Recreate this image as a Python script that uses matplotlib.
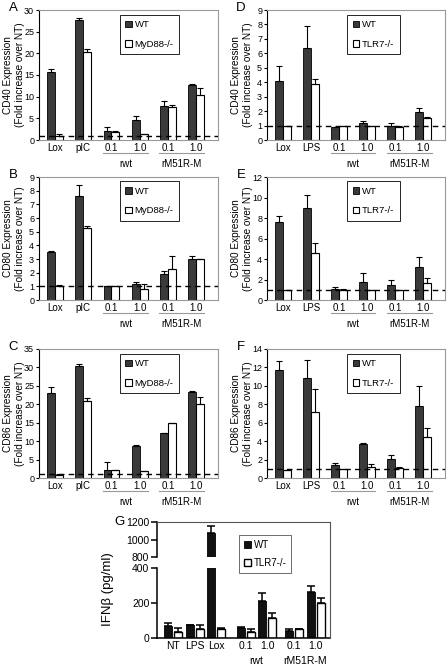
import numpy as np
import matplotlib
matplotlib.use('Agg')
import matplotlib.pyplot as plt
from matplotlib.patches import Patch
from matplotlib.lines import Line2D
from matplotlib.transforms import offset_copy

plt.rcParams['font.family'] = ['Liberation Sans', 'DejaVu Sans']

W, H = 448, 666

# categories
cats_myd = ['Lox', 'pIC', '0.1', '1.0', '0.1', '1.0']
cats_tlr = ['Lox', 'LPS', '0.1', '1.0', '0.1', '1.0']
groups = ['rwt', 'rM51R-M']

# A: CD40, MyD88-/-
a_wt = [15.8, 27.6, 2.0, 4.7, 7.9, 12.8]
a_wt_err = [0.6, 0.6, 0.9, 0.8, 1.0, 0.2]
a_ko = [0.9, 20.2, 1.9, 1.3, 7.7, 10.5]
a_ko_err = [0.4, 0.9, 0.1, 0.1, 0.3, 1.6]

# B: CD80, MyD88-/-
b_wt = [3.5, 7.6, 1.0, 1.2, 1.9, 3.0]
b_wt_err = [0.1, 0.8, 0.05, 0.15, 0.2, 0.2]
b_ko = [1.0, 5.3, 1.0, 0.8, 2.3, 3.0]
b_ko_err = [0.1, 0.1, 0.0, 0.35, 0.9, 0.0]

# C: CD86, MyD88-/-
c_wt = [23.0, 30.3, 2.3, 8.6, 12.1, 23.4]
c_wt_err = [1.8, 0.7, 2.0, 0.3, 0.1, 0.2]
c_ko = [0.9, 21.0, 2.3, 2.0, 14.9, 20.1]
c_ko_err = [0.2, 0.8, 0.0, 0.0, 0.0, 2.0]

# D: CD40, TLR7-/-
d_wt = [4.1, 6.4, 0.9, 1.2, 1.0, 1.95]
d_wt_err = [1.0, 1.5, 0.0, 0.1, 0.15, 0.3]
d_ko = [1.0, 3.85, 0.95, 0.95, 0.9, 1.5]
d_ko_err = [0.0, 0.35, 0.0, 0.0, 0.1, 0.1]

# E: CD80, TLR7-/-
e_wt = [7.6, 9.0, 1.1, 1.8, 1.5, 3.2]
e_wt_err = [0.6, 1.2, 0.2, 0.8, 0.5, 1.0]
e_ko = [1.0, 4.6, 1.0, 1.0, 1.0, 1.7]
e_ko_err = [0.0, 1.0, 0.1, 0.0, 0.0, 0.4]

# F: CD86, TLR7-/-
f_wt = [11.7, 10.9, 1.4, 3.7, 2.1, 7.8]
f_wt_err = [1.0, 1.9, 0.2, 0.1, 0.4, 2.2]
f_ko = [0.9, 7.2, 1.0, 1.2, 1.1, 4.4]
f_ko_err = [0.0, 2.5, 0.0, 0.3, 0.1, 1.0]

# G: IFNb, TLR7-/-
g_cats = ['NT', 'LPS', 'Lox', '0.1', '1.0', '0.1', '1.0']
g_wt = [66, 72, 1080, 57, 212, 38, 263]
g_wt_err = [18, 5, 75, 5, 45, 12, 35]
g_ko = [36, 50, 50, 36, 112, 50, 198]
g_ko_err = [20, 25, 5, 14, 30, 3, 33]

WT_COL = '#3a3a3a'
FRAME = '#999999'

fig = plt.figure(figsize=(W / 100, H / 100), dpi=100)


def px_axes(x0, x1, y0, y1):
    return fig.add_axes([x0 / W, 1 - y1 / H, (x1 - x0) / W, (y1 - y0) / H])


def panel(x0, x1, y0, y1, cats, wt, wt_err, ko, ko_err, ymax, ystep,
          ylab, kolab, letter):
    ax = px_axes(x0, x1, y0, y1)
    x = np.arange(len(cats))
    w = 0.28
    ax.bar(x - w / 2, wt, w, color=WT_COL, edgecolor='black', lw=0.6, zorder=2)
    ax.bar(x + w / 2, ko, w, color='white', edgecolor='black', lw=0.8, zorder=2)
    ax.errorbar(x - w / 2, wt, yerr=[np.zeros(len(wt)), wt_err], fmt='none',
                ecolor='black', elinewidth=0.8, capsize=2.5, capthick=0.8, zorder=3)
    ax.errorbar(x + w / 2, ko, yerr=[np.zeros(len(ko)), ko_err], fmt='none',
                ecolor='black', elinewidth=0.8, capsize=2.5, capthick=0.8, zorder=3)
    ax.axhline(1, color='black', lw=1, ls=(0, (4, 3)), zorder=4)
    ax.set_xlim(-0.57, 5.78)
    ax.set_ylim(0, ymax)
    ax.set_yticks(np.arange(0, ymax + 0.01, ystep))
    ax.set_xticks(x)
    ax.set_xticklabels(cats, fontsize=7)
    ax.tick_params(axis='x', length=0, pad=2)
    ax.tick_params(axis='y', length=2.5, width=0.8, labelsize=6.5, pad=1)
    for s in ['top', 'right', 'bottom']:
        ax.spines[s].set_color(FRAME)
        ax.spines[s].set_linewidth(0.8)
    ax.spines['left'].set_linewidth(0.8)
    # two-line y label placed by hand
    yc = 1 - (y0 + y1) / 2 / H
    fig.text((x0 - 31) / W, yc, ylab, rotation=90, fontsize=7.2,
             ha='center', va='center')
    fig.text((x0 - 19) / W, yc, '(Fold increase over NT)', rotation=90,
             fontsize=7.2, ha='center', va='center')
    # group labels under the virus doses
    ltr = offset_copy(ax.get_xaxis_transform(), fig=fig, y=-13, units='dots')
    ttr = offset_copy(ax.get_xaxis_transform(), fig=fig, y=-24, units='dots')
    for g, c in zip(groups, [2.5, 4.5]):
        ax.plot([c - 0.8, c + 0.8], [0, 0], color=FRAME, lw=0.8,
                transform=ltr, clip_on=False)
        ax.text(c, 0, g, transform=ttr, ha='center', va='center', fontsize=7)
    handles = [Patch(facecolor=WT_COL, edgecolor='black', lw=0.6),
               Patch(facecolor='white', edgecolor='black', lw=0.8)]
    leg = ax.legend(handles, ['WT', kolab], loc='upper left',
                    bbox_to_anchor=(0.45, 0.965), borderaxespad=0,
                    fontsize=6.8, frameon=True, fancybox=False,
                    edgecolor='black', handlelength=0.7, handleheight=0.7,
                    handletextpad=0.3, labelspacing=1.1, borderpad=0.6,
                    framealpha=1)
    leg.get_frame().set_linewidth(0.6)
    fig.text((x0 - 26) / W, 1 - (y0 - 2) / H, letter, fontsize=9.5,
             ha='center', va='center')
    return ax


panel(39, 218, 10, 140, cats_myd, a_wt, a_wt_err, a_ko, a_ko_err, 30, 5,
      'CD40 Expression', 'MyD88-/-', 'A')
panel(39, 218, 177, 300, cats_myd, b_wt, b_wt_err, b_ko, b_ko_err, 9, 1,
      'CD80 Expression', 'MyD88-/-', 'B')
panel(39, 218, 349, 478, cats_myd, c_wt, c_wt_err, c_ko, c_ko_err, 35, 5,
      'CD86 Expression', 'MyD88-/-', 'C')
panel(267, 445, 10, 140, cats_tlr, d_wt, d_wt_err, d_ko, d_ko_err, 9, 1,
      'CD40 Expression', 'TLR7-/-', 'D')
panel(267, 445, 177, 300, cats_tlr, e_wt, e_wt_err, e_ko, e_ko_err, 12, 2,
      'CD80 Expression', 'TLR7-/-', 'E')
panel(267, 445, 349, 478, cats_tlr, f_wt, f_wt_err, f_ko, f_ko_err, 14, 2,
      'CD86 Expression', 'TLR7-/-', 'F')

# panel G with broken axis
gx = np.array([0, 1, 2, 3.35, 4.35, 5.6, 6.6])
gw = 0.37
ax_hi = px_axes(157, 330, 522, 557)
ax_lo = px_axes(157, 330, 568, 638)
for ax in (ax_hi, ax_lo):
    ax.bar(gx - 0.23, g_wt, gw, color='#111111', edgecolor='black', lw=0.6, zorder=2)
    ax.bar(gx + 0.23, g_ko, gw, color='white', edgecolor='black', lw=1.0, zorder=2)
    ax.errorbar(gx - 0.23, g_wt, yerr=[np.zeros(len(g_wt)), g_wt_err], fmt='none',
                ecolor='black', elinewidth=1.1, capsize=3, capthick=1.1, zorder=3)
    ax.errorbar(gx + 0.23, g_ko, yerr=[np.zeros(len(g_ko)), g_ko_err], fmt='none',
                ecolor='black', elinewidth=1.1, capsize=3, capthick=1.1, zorder=3)
    ax.set_xlim(-0.74, 7.25)
    ax.spines['right'].set_visible(False)
    ax.spines['left'].set_linewidth(1.1)
    ax.tick_params(axis='y', length=4, width=1.1, labelsize=7.5, pad=1.5)

ax_hi.set_ylim(800, 1200)
ax_hi.set_yticks([800, 1000, 1200])
ax_hi.set_xticks([])
ax_hi.spines['bottom'].set_visible(False)
ax_hi.spines['top'].set_color('#555555')
ax_hi.spines['top'].set_linewidth(0.8)

ax_lo.set_ylim(0, 400)
ax_lo.set_yticks([0, 200, 400])
ax_lo.spines['top'].set_visible(False)
ax_lo.spines['bottom'].set_linewidth(1.1)
ax_lo.set_xticks(gx)
ax_lo.set_xticklabels(g_cats, fontsize=7.5)
ax_lo.tick_params(axis='x', length=0, pad=2)
gtr = offset_copy(ax_lo.get_xaxis_transform(), fig=fig, y=-23, units='dots')
for g, c in zip(groups, [3.85, 6.1]):
    ax_lo.text(c, 0, g, transform=gtr, ha='center', va='center', fontsize=7.5)

fig.add_artist(Line2D([330 / W, 330 / W], [1 - 522 / H, 1 - 638 / H],
                      color='#555555', lw=0.8, transform=fig.transFigure))
fig.text(108 / W, 1 - 589 / H, 'IFNβ (pg/ml)', rotation=90, fontsize=9.5,
         ha='center', va='center')
fig.text(119 / W, 1 - 522 / H, 'G', fontsize=9.5, ha='center', va='center')

handles = [Patch(facecolor='#111111', edgecolor='black', lw=0.6),
           Patch(facecolor='white', edgecolor='black', lw=1.0)]
leg = ax_lo.legend(handles, ['WT', 'TLR7-/-'], loc='upper left',
                   bbox_to_anchor=(239 / W, 1 - 535 / H),
                   bbox_transform=fig.transFigure, borderaxespad=0,
                   fontsize=7, frameon=True, fancybox=False,
                   edgecolor='#555555', handlelength=0.7, handleheight=0.7,
                   handletextpad=0.3, labelspacing=0.8, borderpad=0.5,
                   framealpha=1)
leg.get_frame().set_linewidth(0.6)

fig.savefig('out.png', dpi=100)
